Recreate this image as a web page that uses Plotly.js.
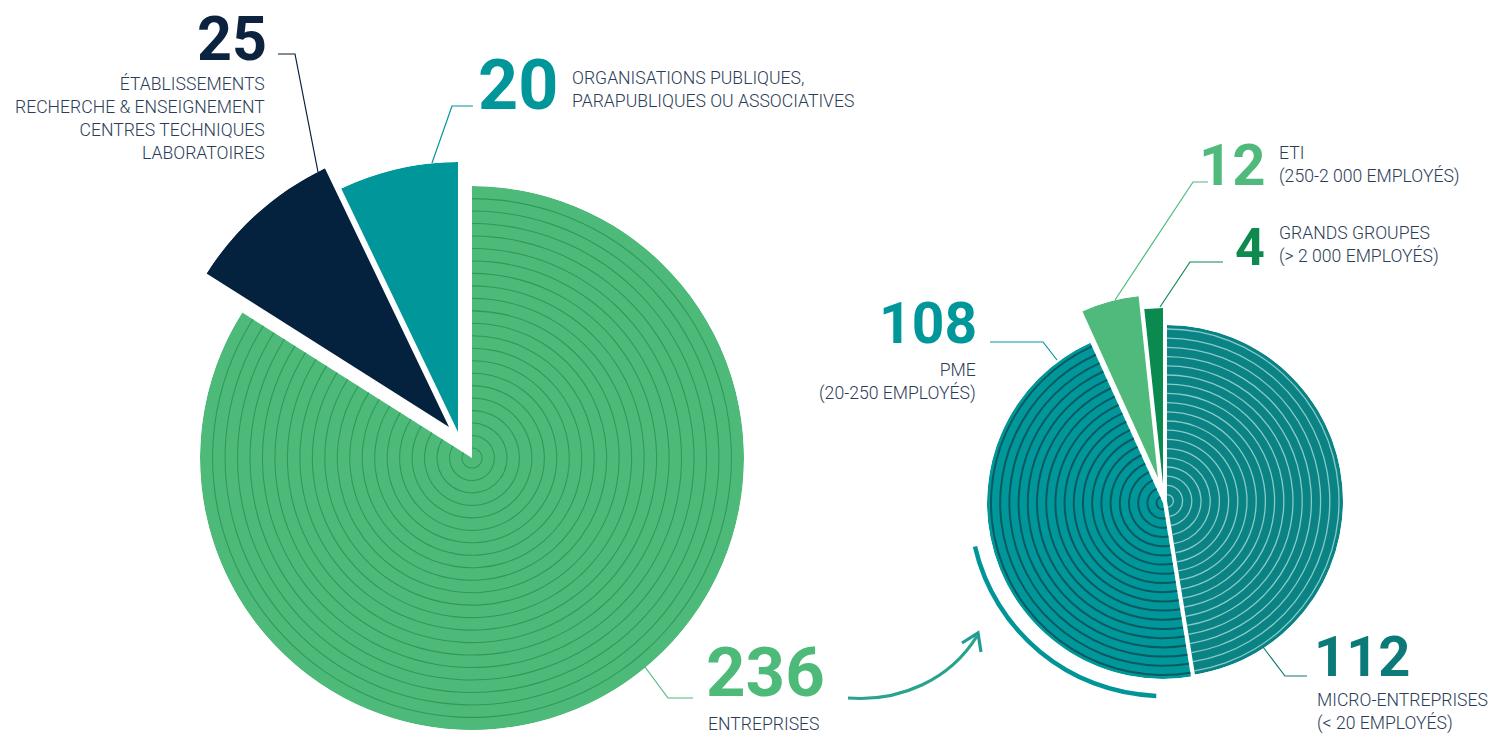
<!DOCTYPE html>
<html><head><meta charset="utf-8">
<script src="https://cdn.plot.ly/plotly-3.0.1.min.js"></script>
<style>html,body{margin:0;padding:0;overflow:hidden;background:#fff}</style>
</head><body><div id="chart" style="width:1492px;height:735px"></div>
<script>
// ---------------- DATA ----------------
const leftLabels = ["ENTREPRISES",
  "ÉTABLISSEMENTS<br>RECHERCHE &amp; ENSEIGNEMENT<br>CENTRES TECHNIQUES<br>LABORATOIRES",
  "ORGANISATIONS PUBLIQUES,<br>PARAPUBLIQUES OU ASSOCIATIVES"];
const leftValues = [236, 25, 20];
const rightLabels = ["MICRO-ENTREPRISES<br>(&lt; 20 EMPLOYÉS)",
  "PME<br>(20-250 EMPLOYÉS)",
  "ETI<br>(250-2 000 EMPLOYÉS)",
  "GRANDS GROUPES<br>(&gt; 2 000 EMPLOYÉS)"];
const rightValues = [112, 108, 12, 4];

// ---------------- STYLE / GEOMETRY ----------------
const W = 1492, H = 735;
const leftColors = ['#4eba7a', '#04213d', '#00969a'];
const rightColors = ['#0b8385', '#00979b', '#4fba7b', '#0b8a4f'];
const numberColorsL = ['#4eba7a', '#0c2340', '#00969a'];
const numberColorsR = ['#0c7a78', '#00979b', '#4fba7b', '#0e8a4f'];
const leftGeom = [{cx:472,cy:458,r:272},{cx:449,cy:427,r:287},{cx:458,cy:432,r:270}];
const rightGeom = [{cx:1167,cy:501,r:176},{cx:1163,cy:503,r:176},{cx:1158,cy:478,r:183},{cx:1163,cy:484,r:176}];
const ringsLeft = [{start:10, step:12.47, n:21, color:'#2f9a58', thick:1.1}, null, null];
const ringsRight = [{start:172, step:-9.2, n:19, color:'#86cbc7', thick:1.3},
                    {start:172, step:-9.2, n:19, color:'#0b5a60', thick:2.0}, null, null];
const textColor = '#2b3c57';
const numFam = 'Roboto, "Open Sans", sans-serif';
const lblFam = 'Roboto, "Open Sans", sans-serif';

function sectors(values){
  const tot = values.reduce((a,b)=>a+b,0); let c = 0;
  return values.map(v=>{ const s=c/tot*360, w=v/tot*360; c+=v; return {start:s,width:w,mid:s+w/2}; });
}

const traces = [];
const layout = {width:W, height:H, margin:{l:0,r:0,t:0,b:0}, paper_bgcolor:'#ffffff',
  showlegend:false, hovermode:'closest', annotations:[], shapes:[]};
let pid = 0;
function strip(s){ return s.replace(/<br>/g,' '); }

function addPie(labels, values, colors, geom, rings){
  const sec = sectors(values);
  values.forEach((v,i)=>{
    pid++;
    const id = pid===1 ? 'polar' : 'polar'+pid;
    const g = geom[i];
    layout[id] = {
      domain:{x:[(g.cx-g.r)/W,(g.cx+g.r)/W], y:[1-(g.cy+g.r)/H, 1-(g.cy-g.r)/H]},
      bgcolor:'rgba(0,0,0,0)', barmode:'overlay',
      radialaxis:{visible:false, range:[0,g.r]},
      angularaxis:{visible:false, rotation:90, direction:'clockwise'}
    };
    traces.push({type:'barpolar', subplot:id, r:[g.r], base:[0], theta:[sec[i].mid], width:[sec[i].width],
      marker:{color:colors[i], line:{width:0}}, customdata:[v],
      hovertemplate: strip(labels[i])+' : %{customdata}<extra></extra>'});
    const rg = rings[i];
    if(rg){
      const radii = Array.from({length:rg.n},(_,k)=>rg.start+rg.step*k);
      traces.push({type:'barpolar', subplot:id, r:radii.map(()=>rg.thick), base:radii.map(x=>x-rg.thick/2),
        theta:radii.map(()=>sec[i].mid), width:radii.map(()=>sec[i].width),
        marker:{color:rg.color, line:{width:0}}, hoverinfo:'skip'});
    }
  });
}
addPie(leftLabels, leftValues, leftColors, leftGeom, ringsLeft);
addPie(rightLabels, rightValues, rightColors, rightGeom, ringsRight);

// ---------------- TEXT ----------------
function ann(text, x, y, xanchor, font, align){
  layout.annotations.push({xref:'paper', yref:'paper', x:x/W, y:1-y/H, xanchor:xanchor, yanchor:'middle',
    text:text, showarrow:false, font:font, align:align||xanchor, borderpad:0});
}
const numFont = (size,color)=>({family:numFam, size:size, color:color, weight:700});
const lblFont = {family:lblFam, size:17.6, color:textColor, weight:300};

ann(String(leftValues[1]), 268, 38.5, 'right', numFont(61, numberColorsL[1]));
ann(leftLabels[1], 266, 118.5, 'right', lblFont);
ann(String(leftValues[2]), 477, 85, 'left', numFont(70, numberColorsL[2]));
ann(leftLabels[2], 571, 89.8, 'left', lblFont);
ann(String(leftValues[0]), 705, 672.5, 'left', numFont(69, numberColorsL[0]));
ann(leftLabels[0], 707, 723.5, 'left', lblFont);

ann(String(rightValues[2]), 1267, 165.5, 'right', numFont(58, numberColorsR[2]));
ann(rightLabels[2], 1278, 165.3, 'left', lblFont);
ann(String(rightValues[3]), 1266, 248, 'right', numFont(52, numberColorsR[3]));
ann(rightLabels[3], 1278, 245.3, 'left', lblFont);
ann(String(rightValues[1]), 978, 324, 'right', numFont(57, numberColorsR[1]));
ann(rightLabels[1], 977, 382.3, 'right', lblFont);
ann(String(rightValues[0]), 1313, 657, 'left', numFont(56, numberColorsR[0]));
ann(rightLabels[0], 1316, 712.2, 'left', lblFont);

// ---------------- LEADER LINES & DECOR ----------------
function P(x,y){ return (x/W).toFixed(5)+','+(1-y/H).toFixed(5); }
function poly(pts, color, width){
  layout.shapes.push({type:'path', xref:'paper', yref:'paper', layer:'above',
    path:'M'+pts.map(p=>P(p[0],p[1])).join(' L'), line:{color:color, width:width}});
}
poly([[278,54],[295,54],[318,172]], '#04213d', 1.2);
poly([[473,106],[452,106],[432,163]], '#00969a', 1.2);
poly([[693,698],[668,698],[645,667]], '#4eba7a', 1.2);
poly([[1208,182],[1193,182],[1115,300]], '#4fba7b', 1.2);
poly([[1223,262],[1190,262],[1160,307]], '#0b8a4f', 1.2);
poly([[990,342],[1043,342],[1057,360]], '#00979b', 1.2);
poly([[1307,676],[1285,676],[1263,647]], '#0c7a78', 1.2);

// curved arrow
layout.shapes.push({type:'path', xref:'paper', yref:'paper', layer:'above',
  path:'M'+P(848,698)+' C'+P(900,702)+' '+P(950,680)+' '+P(977,636), line:{color:'#2aa38c', width:3.2}});
poly([[962,643],[978,633],[981,652]], '#1f9c94', 3.2);

// arc around the right pie
(function(){
  const cx=1163, cy=503, r=193, a1=257*Math.PI/180, a2=182*Math.PI/180;
  const p=a=>[cx+r*Math.sin(a), cy-r*Math.cos(a)];
  const d=a=>[r*Math.cos(a), r*Math.sin(a)];
  const al = 4/3*Math.tan((a2-a1)/4);
  const p1=p(a1), p2=p(a2), d1=d(a1), d2=d(a2);
  const c1=[p1[0]+al*d1[0], p1[1]+al*d1[1]], c2=[p2[0]-al*d2[0], p2[1]-al*d2[1]];
  layout.shapes.push({type:'path', xref:'paper', yref:'paper', layer:'above',
    path:'M'+P(p1[0],p1[1])+' C'+P(c1[0],c1[1])+' '+P(c2[0],c2[1])+' '+P(p2[0],p2[1]),
    line:{color:'#009597', width:4.5}});
})();

Plotly.newPlot('chart', traces, layout, {displayModeBar:false});
</script></body></html>
